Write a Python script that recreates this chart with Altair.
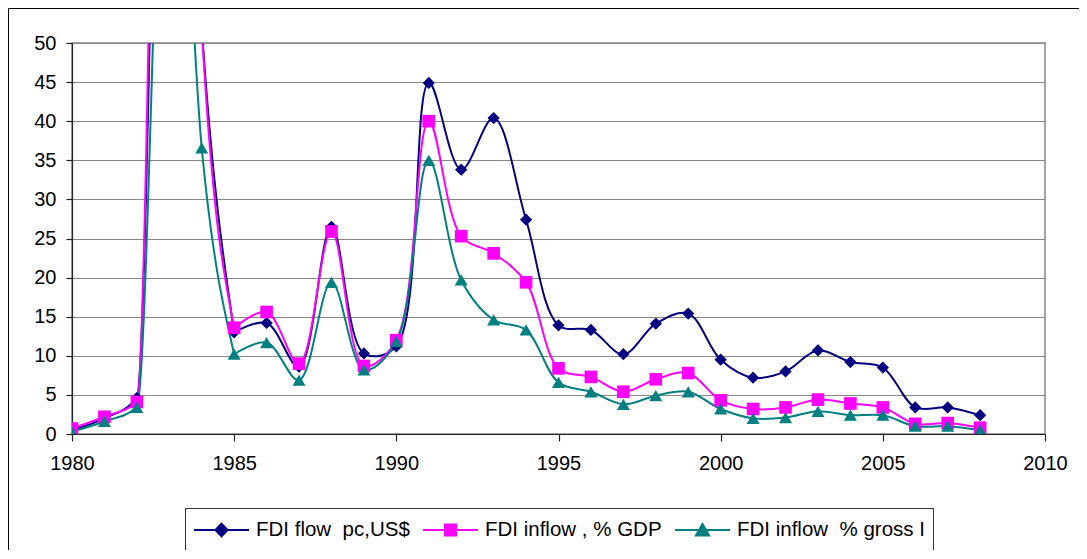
import altair as alt
import pandas as pd

years = list(range(1980, 2009))
fdi_pc = [0.5, 2.0, 4.6, 135, 52, 13.0, 14.2, 8.6, 26.5, 10.3, 11.2, 44.9, 33.8, 40.4, 27.4,
          13.9, 13.3, 10.2, 14.1, 15.4, 9.5, 7.2, 8.0, 10.7, 9.2, 8.5, 3.4, 3.4, 2.4]
fdi_gdp = [0.7, 2.2, 4.1, 160, 52, 13.6, 15.6, 9.0, 25.9, 8.7, 12.0, 40.0, 25.3, 23.1, 19.4,
           8.4, 7.3, 5.4, 7.0, 7.8, 4.3, 3.2, 3.4, 4.4, 3.9, 3.4, 1.3, 1.4, 0.8]
fdi_gross = [0.3, 1.6, 3.4, 97, 36.6, 10.2, 11.7, 6.9, 19.4, 8.2, 11.8, 35.0, 19.7, 14.6, 13.3,
             6.6, 5.4, 3.8, 4.9, 5.4, 3.2, 2.0, 2.1, 2.9, 2.4, 2.4, 1.0, 1.0, 0.5]

series_names = ["FDI flow\u00a0 pc,US$", "FDI inflow , % GDP", "FDI inflow\u00a0 % gross I"]
colors = ["#000080", "#FF00FF", "#008080"]
x_ticks = [1980, 1985, 1990, 1995, 2000, 2005, 2010]
y_ticks = [0, 5, 10, 15, 20, 25, 30, 35, 40, 45, 50]

rows = []
for name, vals in zip(series_names, [fdi_pc, fdi_gdp, fdi_gross]):
    for i, (yr, v) in enumerate(zip(years, vals)):
        rows.append({"year": yr, "value": v, "series": name, "order": i})
df = pd.DataFrame(rows)

W, H = 973, 391
PL, PT, PR, PB = 64, 35, 34, 116
FONT = "Liberation Sans"

color_scale = alt.Scale(domain=series_names, range=colors)
xenc = alt.X("year:Q", scale=alt.Scale(domain=[1980, 2010], nice=False),
             axis=alt.Axis(values=x_ticks, format="d", title=None, grid=False,
                           tickSize=7, labelPadding=12, labelFlush=False))
yenc = alt.Y("value:Q", scale=alt.Scale(domain=[0, 50], nice=False),
             axis=alt.Axis(values=y_ticks, title=None, grid=True, tickSize=6,
                           labelPadding=10, labelFlush=False))

base = alt.Chart(df)

frame = alt.Chart(pd.DataFrame({"a": [0]})).mark_rect(
    fill=None, stroke="black", strokeWidth=1, clip=False
).encode(
    x=alt.value(-PL + 0.5), x2=alt.value(W + PR + 10),
    y=alt.value(-PT + 0.5), y2=alt.value(H + PB + 10),
)

line_enc = dict(
    x=xenc, y=yenc,
    color=alt.Color("series:N", scale=color_scale, legend=None, sort=series_names),
    order="order:Q",
)
lines_early = base.transform_filter(alt.datum.year <= 1985).mark_line(
    interpolate="monotone", strokeWidth=2, clip=True).encode(**line_enc)
lines_late = base.transform_filter(alt.datum.year >= 1985).mark_line(
    interpolate="catmull-rom", strokeWidth=2, clip=True).encode(**line_enc)

points = base.mark_point(filled=True, opacity=1, clip=True, strokeWidth=0).encode(
    x=xenc, y=yenc,
    color=alt.Color("series:N", scale=color_scale, legend=None, sort=series_names),
    shape=alt.Shape("series:N", scale=alt.Scale(domain=series_names,
                                                range=["diamond", "square", "triangle-up"]),
                    legend=None),
    size=alt.Size("series:N", scale=alt.Scale(domain=series_names, range=[150, 169, 175]),
                  legend=None),
)

leg_shapes = [
    "M-1,0L1,0M0,-0.23L0.22,0L0,0.23L-0.22,0Z",
    "M-1,0L1,0M-0.2,-0.2L0.2,-0.2L0.2,0.2L-0.2,0.2Z",
    "M-1,0L1,0M-0.24,0.2L0.24,0.2L0,-0.22Z",
]
leg = alt.Legend(orient="none", legendX=113, legendY=465,
                 direction="horizontal", title=None,
                 strokeColor="#333333", padding=8,
                 symbolSize=3025, symbolStrokeWidth=2,
                 symbolOpacity=1, labelOffset=6,
                 columnPadding=12, labelFontSize=20.5,
                 labelFont=FONT, labelColor="black",
                 labelLimit=400, clipHeight=28)
legend_layer = base.mark_point(filled=True, opacity=0, clip=True).encode(
    x=xenc, y=yenc,
    fill=alt.Fill("series:N", scale=color_scale, sort=series_names, title=None, legend=leg),
    stroke=alt.Stroke("series:N", scale=color_scale, sort=series_names, title=None, legend=leg),
    shape=alt.Shape("series:N", scale=alt.Scale(domain=series_names, range=leg_shapes),
                    sort=series_names, title=None, legend=leg),
)

chart = alt.layer(frame, lines_early, lines_late, points, legend_layer).resolve_scale(
    shape="independent", color="independent", size="independent",
    fill="independent", stroke="independent",
).properties(
    width=W, height=H,
    autosize=alt.AutoSizeParams(type="none"),
    padding={"left": PL, "top": PT, "right": PR, "bottom": PB},
).configure_view(
    stroke="#888888", strokeWidth=1.5,
).configure_axis(
    labelFont=FONT, labelFontSize=20, labelColor="black",
    domainColor="#222222", tickColor="#222222", gridColor="#888888",
    gridWidth=1.2, domainWidth=1.2, tickWidth=1.2,
)

chart.save("out.html", embed_options={"renderer": "svg", "actions": False})
